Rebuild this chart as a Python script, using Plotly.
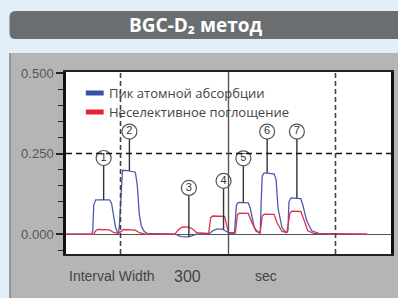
import plotly.graph_objects as go

# ---------------- data (time in sec, absorbance) ----------------
aa_t = [0, 26, 27, 28, 30, 44, 46, 48, 50, 52, 53, 54, 56, 57, 62, 70, 72, 74, 76, 79, 82,
        110, 112, 116, 124, 128, 132, 145, 148, 152, 158, 162, 165, 170, 171, 172, 174, 184,
        186, 190, 194, 196, 197, 198, 200, 210, 212, 214, 218, 222, 224, 225, 227, 237, 239,
        243, 248, 255, 270, 304]
aa_v = [0.0, 0.0, 0.01, 0.09, 0.106, 0.106, 0.095, 0.05, 0.02, 0.005, 0.003, 0.03, 0.17,
        0.198, 0.197, 0.192, 0.15, 0.06, 0.025, 0.008, 0.002, 0.0, -0.003, -0.008, -0.009,
        -0.004, 0.0, 0.002, 0.01, 0.015, 0.015, 0.008, 0.002, 0.003, 0.05, 0.09, 0.098,
        0.097, 0.08, 0.02, 0.005, 0.003, 0.1, 0.18, 0.19, 0.187, 0.17, 0.08, 0.02, 0.004,
        0.01, 0.1, 0.112, 0.11, 0.09, 0.04, 0.01, 0.002, 0.0, 0.0]

bg_t = [0, 28, 30, 32, 44, 48, 52, 56, 58, 70, 74, 80, 110, 113, 117, 124, 128, 132, 144,
        146, 148, 160, 162, 164, 171, 173, 175, 184, 187, 192, 196, 198, 200, 210, 213, 218,
        223, 226, 228, 237, 240, 244, 250, 304]
bg_v = [0.0, 0.0, 0.01, 0.014, 0.013, 0.005, 0.002, 0.008, 0.014, 0.012, 0.004, 0.0, 0.0,
        0.012, 0.021, 0.022, 0.015, 0.004, 0.002, 0.05, 0.056, 0.055, 0.03, 0.005, 0.004,
        0.06, 0.065, 0.064, 0.04, 0.008, 0.005, 0.055, 0.062, 0.061, 0.035, 0.008, 0.005,
        0.065, 0.071, 0.07, 0.045, 0.01, 0.002, 0.0]

label_text = ["1", "2", "3", "4", "5", "6", "7"]
label_t = [38, 64, 124, 159, 179, 203, 233]
label_v = [0.236, 0.318, 0.143, 0.165, 0.235, 0.318, 0.318]
label_tip = [0.106, 0.197, -0.009, 0.015, 0.098, 0.19, 0.111]

y_ticks = [0.0, 0.25, 0.5]
y_ticklabels = ["0.000", "0.250", "0.500"]
v_dashed_t = [55, 272]
v_solid_t = 164

legend_names = ["Пик атомной абсорбции", "Неселективное поглощение"]
title_text = "BGC-D₂ метод"
bottom_texts = ["Interval Width", "300", "sec"]

BLUE = "#4d5ab0"
RED = "#e0304a"

# ---------------- geometry helpers (pixel -> paper) ----------------
L, R, T, B = 66, 4, 72, 44
W, H = 398, 298
PW, PH = W - L - R, H - T - B


def px(x):
    return (x - L) / PW


def py(y):
    return (H - B - y) / PH


fig = go.Figure()

fig.add_trace(go.Scatter(x=aa_t, y=aa_v, mode="lines", line=dict(color=BLUE, width=1.3),
                         hoverinfo="skip", showlegend=False))
fig.add_trace(go.Scatter(x=bg_t, y=bg_v, mode="lines", line=dict(color=RED, width=1.3),
                         hoverinfo="skip", showlegend=False))

# leader lines
lx, ly = [], []
for t, v, tip in zip(label_t, label_v, label_tip):
    lx += [t, t, None]
    ly += [v, tip, None]
fig.add_trace(go.Scatter(x=lx, y=ly, mode="lines", line=dict(color="#333333", width=1.4),
                         hoverinfo="skip", showlegend=False))
fig.add_trace(go.Scatter(x=label_t, y=label_v, mode="markers+text", text=label_text,
                         textposition="middle center",
                         textfont=dict(family="Liberation Sans, Arial", size=11, color="#333333"),
                         marker=dict(size=15, color="white", line=dict(color="#555555", width=1.2)),
                         hoverinfo="skip", showlegend=False, cliponaxis=False))

shapes = []
# gray panel
shapes.append(dict(type="rect", xref="paper", yref="paper", x0=px(9), x1=px(402),
                   y0=py(302), y1=py(53), fillcolor="#b5b5b5",
                   line=dict(width=0), layer="below"))
shapes.append(dict(type="line", xref="paper", yref="paper", x0=px(9.5), x1=px(9.5),
                   y0=py(302), y1=py(53), line=dict(color="#8a8a8a", width=1.5), layer="below"))
# white plot area
shapes.append(dict(type="rect", xref="paper", yref="paper", x0=0, x1=1, y0=0, y1=1,
                   fillcolor="white", line=dict(width=0), layer="below"))
# title bar with rounded left corners
x0, x1, yt, yb = px(9), px(402), py(11), py(39)
rx, ry = 6 / PW, 6 / PH
path = (f"M {x0 + rx},{yt} L {x1},{yt} L {x1},{yb} L {x0 + rx},{yb} "
        f"Q {x0},{yb} {x0},{yb + ry} L {x0},{yt - ry} Q {x0},{yt} {x0 + rx},{yt} Z")
shapes.append(dict(type="path", xref="paper", yref="paper", path=path,
                   fillcolor="#6b6e71", line=dict(width=0), layer="below"))
# reference lines
shapes.append(dict(type="line", xref="paper", yref="y", x0=0, x1=1, y0=0.25, y1=0.25,
                   line=dict(color="#111111", width=1.6, dash="6px,4px")))
for t in v_dashed_t:
    shapes.append(dict(type="line", xref="x", yref="paper", x0=t, x1=t, y0=0, y1=1,
                       line=dict(color="#444444", width=1.6, dash="5px,3px")))
shapes.append(dict(type="line", xref="x", yref="paper", x0=v_solid_t, x1=v_solid_t, y0=0, y1=1,
                   line=dict(color="#555555", width=1.4)))
# legend swatches
shapes.append(dict(type="rect", xref="paper", yref="paper", x0=px(86), x1=px(104),
                   y0=py(95.5), y1=py(90.5), fillcolor="#3550a8", line=dict(width=0)))
shapes.append(dict(type="rect", xref="paper", yref="paper", x0=px(86), x1=px(104),
                   y0=py(114.5), y1=py(109.5), fillcolor="#e8203c", line=dict(width=0)))

annotations = [
    dict(text=f"<b>{title_text}</b>", xref="paper", yref="paper", x=px(197), y=py(25),
         showarrow=False, xanchor="center", yanchor="middle",
         font=dict(family="Open Sans, Noto Sans", size=19, color="white")),
    dict(text=legend_names[0], xref="paper", yref="paper", x=px(107), y=py(93),
         showarrow=False, xanchor="left", yanchor="middle",
         font=dict(family="Open Sans, Noto Sans", size=13, color="#444444")),
    dict(text=legend_names[1], xref="paper", yref="paper", x=px(107), y=py(112),
         showarrow=False, xanchor="left", yanchor="middle",
         font=dict(family="Open Sans, Noto Sans", size=13, color="#444444")),
]
for txt, xl in zip(bottom_texts, [67, 173, 255]):
    annotations.append(dict(text=txt, xref="paper", yref="paper", x=px(xl), y=py(276),
                            showarrow=False, xanchor="left", yanchor="middle",
                            font=dict(family="Liberation Sans, Arial",
                                      size=16 if txt == "300" else 14, color="#444444")))

fig.update_layout(
    width=W, height=H,
    margin=dict(l=L, r=R, t=T, b=B, pad=0),
    paper_bgcolor="#e2eef8",
    plot_bgcolor="white",
    shapes=shapes,
    annotations=annotations,
    showlegend=False,
    xaxis=dict(range=[0, PW], showgrid=False, zeroline=False, showticklabels=False,
               ticks="", showline=True, linecolor="#222222", linewidth=2, mirror=True),
    yaxis=dict(range=[-0.062, 0.503], showgrid=False, zeroline=True, zerolinecolor="#555555",
               zerolinewidth=1.2, tickvals=y_ticks, ticktext=y_ticklabels, ticks="outside",
               ticklen=7, tickwidth=1.5, tickcolor="#222222",
               minor=dict(dtick=0.05, tick0=0, ticks="outside", ticklen=5, tickwidth=1.3,
                          tickcolor="#222222"),
               showline=True, linecolor="#111111", linewidth=2.5, mirror=True,
               tickfont=dict(family="Liberation Sans, Arial", size=13, color="#555555")),
)

fig.write_html(
    "out.html",
    config={"displayModeBar": False},
    post_script="document.body.style.margin='0';document.body.style.overflow='hidden';"
                "document.documentElement.style.overflow='hidden';",
)
